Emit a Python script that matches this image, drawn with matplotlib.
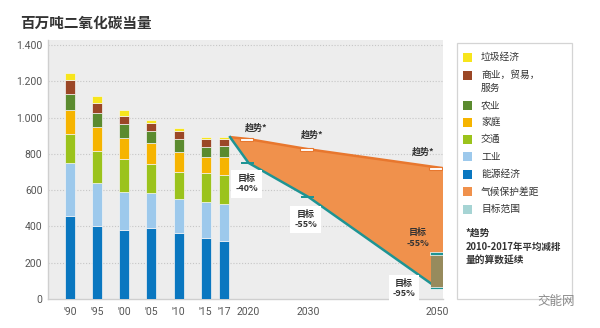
import numpy as np
import matplotlib.pyplot as plt

plt.rcParams['font.family'] = ['Noto Sans CJK SC', 'DejaVu Sans']

# Historische Emissionen (Mio. t CO2-Äq.), von unten nach oben gestapelt
hist_years = [1990, 1995, 2000, 2005, 2010, 2015, 2017]
hist_labels = ["'90", "'95", "'00", "'05", "'10", "'15", "'17"]
energy = [460, 400, 380, 393, 365, 338, 322]
industry = [290, 241, 211, 189, 188, 195, 200]
transport = [158, 176, 180, 162, 148, 159, 163]
households = [132, 132, 118, 114, 111, 88, 99]
agriculture = [92, 78, 75, 68, 71, 59, 58]
commerce = [74, 55, 46, 42, 43, 44, 42]
waste = [38, 36, 31, 18, 14, 8, 8]

sector_names = ['能源经济', '工业', '交通', '家庭', '农业', '商业，贸易，\n服务', '垃圾经济']

# Projektion
future_years = [2020, 2030, 2050]
future_labels = ['2020', '2030', '2050']
trend_vals = [881, 825, 720]
target_vals = [750, 562, 62]          # -40 %, -55 %, -95 %
target_range_2050 = [62, 250]         # -95 % ... -80 %

# Farben
C_ENERGY = '#0a77c0'
C_INDUSTRY = '#9dc9ec'
C_TRANSPORT = '#9bc31c'
C_HOUSE = '#f6b400'
C_AGRI = '#5b8b2f'
C_COMM = '#9b4726'
C_WASTE = '#f7e51c'
C_GAP = '#f0914c'
C_TREND = '#e8772e'
C_TARGET = '#1e9494'
C_RANGE = '#a6d4d4'
C_RANGE_ON_GAP = '#978b5d'
sector_colors = [C_ENERGY, C_INDUSTRY, C_TRANSPORT, C_HOUSE, C_AGRI, C_COMM, C_WASTE]

# x-Achse: Pixel-Layout, historisch und Zukunft unterschiedlich gestaucht
AXIS_YEARS = [1990, 2015, 2017, 2020, 2030, 2050]
AXIS_PIX = [70, 205.7, 224, 248.5, 308.5, 437]


def xpos(year):
    return np.interp(year, AXIS_YEARS, AXIS_PIX)


fig = plt.figure(figsize=(6, 3.28), dpi=100)
W, H = 600, 328
ax = fig.add_axes([48 / W, (H - 299) / H, (443 - 48) / W, (299 - 40) / H])
ax.set_facecolor('#ededed')
ax.set_xlim(48, 443)
ax.set_ylim(0, 1427)

# Gitter
for v in range(200, 1401, 200):
    ax.axhline(v, color='#c6c6c6', lw=0.8, ls=(0, (1, 1.6)), zorder=0)

# gestapelte Balken
xh = xpos(hist_years)
series = [energy, industry, transport, households, agriculture, commerce, waste]
bottom = np.zeros(len(hist_years))
for vals, col in zip(series, sector_colors):
    ax.bar(xh, vals, bottom=bottom, width=10, color=col, edgecolor='#f4f4f4',
           linewidth=0.5, zorder=3)
    bottom += np.array(vals)
total_2017 = bottom[-1]

# Klimaschutzlücke
x_start = xpos(2017) + 6
xf = xpos(future_years)
x_end = xf[-1] + 7
top_x = [x_start, xf[0], xf[1], x_end]
top_y = [total_2017, trend_vals[0], trend_vals[1], trend_vals[2]]
bot_x = [x_start, xf[0], xf[1], xf[2], x_end]
bot_y = [total_2017, target_vals[0], target_vals[1], target_vals[2], target_vals[2]]
poly_x = top_x + bot_x[::-1]
poly_y = top_y + bot_y[::-1]
ax.fill(poly_x, poly_y, color=C_GAP, lw=0, zorder=2)
ax.plot(top_x, top_y, color=C_TREND, lw=1.8, zorder=4, solid_capstyle='butt')
ax.plot(bot_x[:4], bot_y[:4], color=C_TARGET, lw=1.8, zorder=4)

# Zielkorridor 2050
ax.bar(xf[-1] + 0.5, target_range_2050[1] - target_range_2050[0], bottom=target_range_2050[0],
       width=13, color=C_RANGE_ON_GAP, lw=0, zorder=5)

# Marker Trend / Ziel
ax.bar(xf - 2, 16, bottom=np.array(trend_vals) - 8, width=13, color='white',
       edgecolor=C_TREND, linewidth=0.8, zorder=6)
ax.bar(xf[:2] - 1.5, 13, bottom=np.array(target_vals[:2]) - 6.5, width=13, color=C_TARGET,
       lw=0, zorder=6)
ax.bar([xf[-1] + 0.5] * 2, 13, bottom=np.array(target_range_2050) - 6.5, width=15,
       color=C_TARGET, edgecolor='white', linewidth=0.5, zorder=6)

# Beschriftungen im Diagramm
txt = dict(fontsize=6.5, color='#333333', ha='center', va='center', zorder=8,
           fontweight='bold', linespacing=1.25)
box = dict(boxstyle='square,pad=0.45', fc='white', ec='none')
ax.text(xf[0] + 8, trend_vals[0] + 62, '趋势*', **txt)
ax.text(xf[1] + 4, trend_vals[1] + 80, '趋势*', **txt)
ax.text(xf[2] - 14, trend_vals[2] + 90, '趋势*', **txt)
ax.text(xf[0] - 2, 636, '目标\n-40%', bbox=box, **txt)
ax.text(xf[1] - 3, 438, '目标\n-55%', bbox=box, **txt)
ax.text(xf[2] - 19, 338, '目标\n-55%', **txt)
ax.text(xf[2] - 33, 58, '目标\n-95%', bbox=box, **txt)

# Achsen
for s in ['top', 'right']:
    ax.spines[s].set_visible(False)
for s in ['left', 'bottom']:
    ax.spines[s].set_color('#cfcfcf')
    ax.spines[s].set_linewidth(1.0)
ax.set_yticks(range(0, 1401, 200))
ax.set_yticklabels([f'{v:,}'.replace(',', '.') for v in range(0, 1401, 200)])
ax.set_xticks(list(xh) + list(xf))
ax.set_xticklabels(hist_labels + future_labels)
ax.tick_params(axis='both', length=0, labelsize=7.5, labelcolor='#555555')
ax.tick_params(axis='y', pad=4)
ax.tick_params(axis='x', pad=6)
for lab in ax.get_xticklabels() + ax.get_yticklabels():
    lab.set_family(['Roboto', 'DejaVu Sans'])

# Overlay in Pixelkoordinaten: Titel, Legende, Wasserzeichen
ov = fig.add_axes([0, 0, 1, 1], zorder=10)
ov.set_xlim(0, W)
ov.set_ylim(H, 0)
ov.axis('off')
ov.patch.set_alpha(0)

ov.text(20, 23, '百万吨二氧化碳当量', fontsize=10.5, fontweight='bold', color='#333333',
        va='center', ha='left')

ov.add_patch(plt.Rectangle((456.5, 42.5), 115, 256.5, fc='white', ec='#d4d4d4', lw=0.9))
legend_items = [
    (C_WASTE, '垃圾经济', 57.3),
    (C_COMM, '商业，贸易，\n服务', 81),
    (C_AGRI, '农业', 105.7),
    (C_HOUSE, '家庭', 122.3),
    (C_TRANSPORT, '交通', 139),
    (C_INDUSTRY, '工业', 156.7),
    (C_ENERGY, '能源经济', 174),
    (C_GAP, '气候保护差距', 191.7),
    (C_RANGE, '目标范围', 209),
]
for col, label, yy in legend_items:
    sq_y = 75 if '\n' in label else yy
    ov.add_patch(plt.Rectangle((463, sq_y - 4.5), 9, 9, fc=col, ec='none'))
    ov.text(481, yy, label, fontsize=7, color='#333333', va='center', ha='left',
            linespacing=1.35)
ov.text(466, 232.7, '*趋势', fontsize=7, fontweight='bold', color='#333333', va='center')
ov.text(466, 246.7, '2010-2017年平均减排', fontsize=6.8, fontweight='bold', color='#333333',
        va='center')
ov.text(466, 259.3, '量的算数延续', fontsize=7, fontweight='bold', color='#333333', va='center')

ov.text(537, 301, '交能网', fontsize=9, color='#8a8a8a', va='center', ha='left')

fig.savefig('out.png', dpi=100)
